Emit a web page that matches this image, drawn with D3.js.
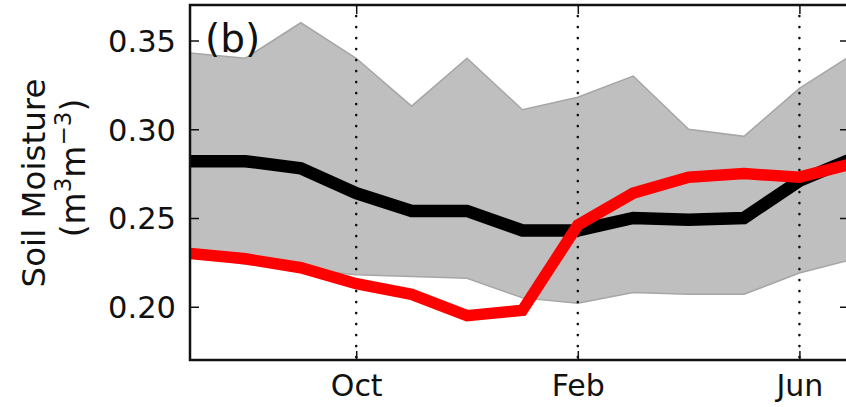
<!DOCTYPE html>
<html>
<head>
<meta charset="utf-8">
<script src="https://cdn.jsdelivr.net/npm/d3@7"></script>
<style>
  html, body { margin: 0; padding: 0; background: #fff; }
  svg { display: block; font-family: "DejaVu Sans", sans-serif; }
</style>
</head>
<body>
<svg id="chart" width="846" height="407"></svg>
<script>
// Monthly soil moisture, July through the following July
const months = ["Jul", "Aug", "Sep", "Oct", "Nov", "Dec", "Jan", "Feb", "Mar", "Apr", "May", "Jun", "Jul"];
const bandUpper = [0.343, 0.340, 0.360, 0.340, 0.313, 0.340, 0.311, 0.318, 0.330, 0.300, 0.296, 0.323, 0.343];
const bandLower = [0.229, 0.224, 0.221, 0.218, 0.217, 0.216, 0.205, 0.202, 0.208, 0.207, 0.207, 0.219, 0.227];
const meanSeries = [0.282, 0.282, 0.278, 0.264, 0.254, 0.254, 0.243, 0.243, 0.250, 0.249, 0.250, 0.271, 0.284];
const yearSeries = [0.230, 0.227, 0.222, 0.213, 0.207, 0.195, 0.198, 0.246, 0.264, 0.273, 0.275, 0.273, 0.281];
const xTickMonths = [3, 7, 11];
const xTickLabels = ["Oct", "Feb", "Jun"];
const yTicks = [0.20, 0.25, 0.30, 0.35];
const panelLabel = "(b)";

const svg = d3.select("#chart");
const plotLeft = 190, plotRight = 849, plotTop = 5, plotBottom = 360;

const x = d3.scaleLinear().domain([0, 11.895]).range([plotLeft, plotRight]);
const y = d3.scaleLinear().domain([0.17, 0.37]).range([plotBottom, plotTop]);
const idx = months.map((m, i) => i);

svg.append("defs").append("clipPath").attr("id", "plot-clip")
  .append("rect").attr("x", plotLeft).attr("y", plotTop)
  .attr("width", plotRight - plotLeft).attr("height", plotBottom - plotTop);

const plot = svg.append("g").attr("clip-path", "url(#plot-clip)");

// spread band
const area = d3.area()
  .x(i => x(i))
  .y0(i => y(bandLower[i]))
  .y1(i => y(bandUpper[i]));
plot.append("path").datum(idx)
  .attr("d", area)
  .attr("fill", "#bfbfbf")
  .attr("stroke", "#a6a6a6")
  .attr("stroke-width", 1.5);

// dotted month markers
plot.selectAll("line.vmark").data(xTickMonths).join("line")
  .attr("class", "vmark")
  .attr("x1", d => x(d)).attr("x2", d => x(d))
  .attr("y1", plotTop).attr("y2", plotBottom)
  .attr("stroke", "#111")
  .attr("stroke-width", 2.6)
  .attr("stroke-linecap", "round")
  .attr("stroke-dasharray", "0.1,10.9");

const line = vals => d3.line().x(i => x(i)).y(i => y(vals[i]))(idx);

plot.append("path")
  .attr("d", line(meanSeries))
  .attr("fill", "none")
  .attr("stroke", "#000")
  .attr("stroke-width", 12.5)
  .attr("stroke-linejoin", "miter");

plot.append("path")
  .attr("d", line(yearSeries))
  .attr("fill", "none")
  .attr("stroke", "#ff0000")
  .attr("stroke-width", 11.5)
  .attr("stroke-linejoin", "miter");

// axes (inward ticks on all four sides)
const tickLen = 9;
const yAxisL = d3.axisLeft(y).tickValues(yTicks).tickFormat(d3.format(".2f"))
  .tickSizeInner(-tickLen).tickSizeOuter(0).tickPadding(14);
const gl = svg.append("g").attr("transform", `translate(${plotLeft},0)`).call(yAxisL);
gl.select(".domain").remove();
gl.selectAll("text").attr("font-size", 30.5).attr("fill", "#111")
  .attr("font-family", "DejaVu Sans").attr("dy", "0.36em");

const gr = svg.append("g").attr("transform", `translate(${plotRight},0)`)
  .call(d3.axisRight(y).tickValues(yTicks).tickSizeInner(-tickLen).tickSizeOuter(0).tickFormat(""));
gr.select(".domain").remove();

const xAxisB = d3.axisBottom(x).tickValues(xTickMonths)
  .tickFormat((d, i) => xTickLabels[i])
  .tickSizeInner(-tickLen).tickSizeOuter(0).tickPadding(15);
const gb = svg.append("g").attr("transform", `translate(0,${plotBottom})`).call(xAxisB);
gb.select(".domain").remove();
gb.selectAll("text").attr("font-size", 30).attr("fill", "#111")
  .attr("font-family", "DejaVu Sans");

const gt = svg.append("g").attr("transform", `translate(0,${plotTop})`)
  .call(d3.axisTop(x).tickValues(xTickMonths).tickSizeInner(-tickLen).tickSizeOuter(0).tickFormat(""));
gt.select(".domain").remove();

svg.selectAll(".tick line").attr("stroke", "#111").attr("stroke-width", 1.5);

// frame
svg.append("rect")
  .attr("x", plotLeft).attr("y", plotTop)
  .attr("width", plotRight - plotLeft).attr("height", plotBottom - plotTop)
  .attr("fill", "none").attr("stroke", "#111").attr("stroke-width", 2.5);

// panel label
svg.append("text")
  .attr("x", 205).attr("y", 52)
  .attr("font-size", 39).attr("fill", "#111")
  .text(panelLabel);

// y-axis title
svg.append("text")
  .attr("transform", "translate(45,183) rotate(-90)")
  .attr("text-anchor", "middle")
  .attr("font-size", 32.5).attr("fill", "#111")
  .text("Soil Moisture");

const unit = svg.append("text")
  .attr("transform", "translate(85,168) rotate(-90)")
  .attr("text-anchor", "middle")
  .attr("font-size", 33).attr("fill", "#111");
unit.append("tspan").text("(m");
unit.append("tspan").attr("font-size", 23).attr("dy", -14).text("3");
unit.append("tspan").attr("dy", 14).text("m");
unit.append("tspan").attr("font-size", 23).attr("dy", -14).text("\u22123");
unit.append("tspan").attr("dy", 14).text(")");
</script>
</body>
</html>
